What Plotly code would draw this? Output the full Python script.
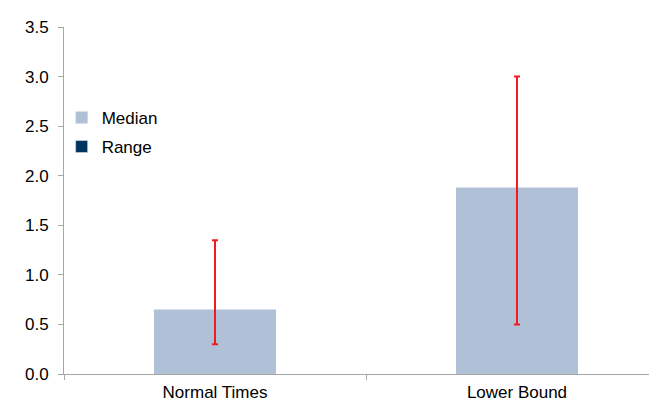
import plotly.graph_objects as go

categories = ["Normal Times", "Lower Bound"]
median = [0.65, 1.88]
range_low = [0.30, 0.50]
range_high = [1.35, 3.00]

err_plus = [h - m for h, m in zip(range_high, median)]
err_minus = [m - l for m, l in zip(median, range_low)]

bar_color = "#b0c1d7"
range_color = "#003560"
axis_color = "#a6a6a6"
font_family = "Liberation Sans, Arial, sans-serif"

fig = go.Figure()
fig.add_trace(go.Bar(
    x=categories, y=median, name="Median",
    marker=dict(color=bar_color, line=dict(width=0)),
    width=0.404,
    error_y=dict(type="data", symmetric=False, array=err_plus, arrayminus=err_minus,
                 color="#f01c24", thickness=2, width=3),
    legendgroup="a",
))
fig.add_trace(go.Bar(
    x=categories, y=[None, None], name="Range",
    marker=dict(color=range_color), legendgroup="b",
))

# page body has an 8px margin; size the figure so it fits the 657x403 window
fig.update_layout(
    width=649, height=395,
    margin=dict(l=56, r=0, t=19, b=29),
    paper_bgcolor="white", plot_bgcolor="white",
    barmode="overlay",
    font=dict(family=font_family, size=17, color="#000000"),
    legend=dict(x=-0.004, y=0.79, xanchor="left", yanchor="top",
                font=dict(size=17), tracegroupgap=4, bgcolor="rgba(0,0,0,0)"),
    xaxis=dict(range=[-0.5, 1.4636], showline=True, linecolor=axis_color, linewidth=1,
               ticks="outside", tickson="boundaries", ticklen=5, tickcolor=axis_color,
               showgrid=False, zeroline=False, tickfont=dict(size=17),
               ticklabelstandoff=3),
    yaxis=dict(range=[0, 3.5], dtick=0.5, tick0=0, tickformat=".1f",
               showline=True, linecolor=axis_color, linewidth=1,
               ticks="outside", ticklen=5, tickcolor=axis_color,
               showgrid=False, zeroline=False, tickfont=dict(size=17),
               ticklabelstandoff=6),
)

fig.write_html("out.html")
